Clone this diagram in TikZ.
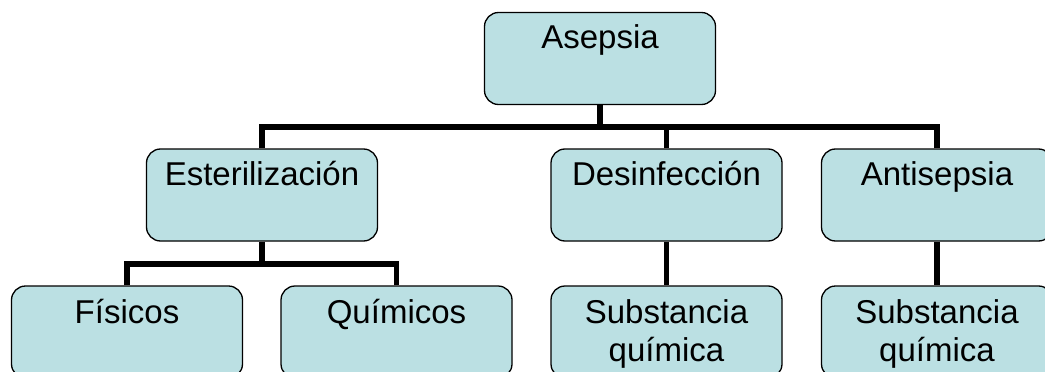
\documentclass[tikz,border=0pt]{standalone}
\usepackage{fontspec}
\setmainfont{Liberation Sans}
\definecolor{boxfill}{HTML}{BBE0E3}
\tikzset{
  box/.style={draw=black, line width=1.3pt, fill=boxfill, rounded corners=14pt,
    minimum width=231pt, minimum height=92pt, inner sep=0pt},
  lbl/.style={anchor=base, inner sep=0pt, font=\fontsize{33}{38.5}\selectfont},
  conn/.style={line width=5.5pt, black, line join=miter}
}
\begin{document}
\begin{tikzpicture}[x=1pt,y=-1pt]
\clip (0,0) rectangle (1045,372);
\fill[white] (0,0) rectangle (1045,372);
% boxes
\node[box] (asepsia) at (600,58.5) {};
\node[box] (este) at (262,195) {};
\node[box] (desi) at (666.5,195) {};
\node[box] (anti) at (937,195) {};
\node[box] (fis) at (127,332) {};
\node[box] (qui) at (396.5,332) {};
\node[box] (sub1) at (666.5,332) {};
\node[box] (sub2) at (937,332) {};
% labels
\node[lbl] (tasepsia) at (600,48) {Asepsia};
\node[lbl] (teste) at (262,185) {Esterilización};
\node[lbl] (tdesi) at (666.5,185) {Desinfección};
\node[lbl] (tanti) at (937,185) {Antisepsia};
\node[lbl] (tfis) at (127,323) {Físicos};
\node[lbl] (tqui) at (396.5,323) {Químicos};
\node[lbl] (tsub1) at (666.5,323) {\parbox[t]{231pt}{\centering Substancia\\química}};
\node[lbl] (tsub2) at (937,323) {\parbox[t]{231pt}{\centering Substancia\\química}};
% connectors
\coordinate (bar) at (600,127);
\coordinate (sbar) at (262,264);
\draw[conn] (asepsia.south) -- (bar);
\draw[conn] (este.north) |- (bar);
\draw[conn] (anti.north) |- (bar);
\draw[conn] (desi.north) |- (bar);
\draw[conn] (este.south) -- (sbar);
\draw[conn] (fis.north) |- (sbar);
\draw[conn] (qui.north) |- (sbar);
\draw[conn] (desi.south) -- (sub1.north);
\draw[conn] (anti.south) -- (sub2.north);
\end{tikzpicture}
\end{document}
